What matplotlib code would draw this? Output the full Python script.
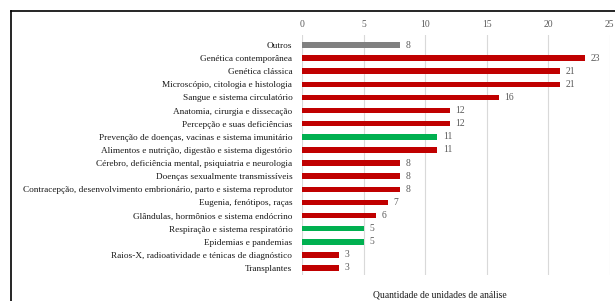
import matplotlib.pyplot as plt
from matplotlib.lines import Line2D

# dados
temas = [
    'Outros',
    'Genética contemporânea',
    'Genética clássica',
    'Microscópio, citologia e histologia',
    'Sangue e sistema circulatório',
    'Anatomia, cirurgia e dissecação',
    'Percepção e suas deficiências',
    'Prevenção de doenças, vacinas e sistema imunitário',
    'Alimentos e nutrição, digestão e sistema digestório',
    'Cérebro, deficiência mental, psiquiatria e neurologia',
    'Doenças sexualmente transmissíveis',
    'Contracepção, desenvolvimento embrionário, parto e sistema reprodutor',
    'Eugenia, fenótipos, raças',
    'Glândulas, hormônios e sistema endócrino',
    'Respiração e sistema respiratório',
    'Epidemias e pandemias',
    'Raios-X, radioatividade e ténicas de diagnóstico',
    'Transplantes',
]
quantidades = [8, 23, 21, 21, 16, 12, 12, 11, 11, 8, 8, 8, 7, 6, 5, 5, 3, 3]
grupos = ['o', 'r', 'r', 'r', 'r', 'r', 'r', 'g', 'r', 'r', 'r', 'r', 'r', 'r', 'g', 'g', 'r', 'r']
eixo_x = [0, 5, 10, 15, 20, 25]

cores = {'o': '#808080', 'r': '#C00000', 'g': '#00B050'}

plt.rcParams['font.family'] = ['Liberation Serif', 'DejaVu Serif']

fig = plt.figure(figsize=(6.15, 3.01), dpi=100)
fig.patch.set_facecolor('white')

n = len(temas)
passo = (268 - 45) / (n - 1)
topo = 35
base = 275
ax = fig.add_axes([302 / 615, 1 - base / 301, 307.5 / 615, (base - topo) / 301])

pos = list(range(n))
ax.barh(pos, quantidades, height=0.42, color=[cores[g] for g in grupos], zorder=3)
for p, q in zip(pos, quantidades):
    ax.text(q + 0.45, p, str(q), va='center', ha='left', fontsize=6.9, color='#595959')

ax.set_xlim(0, 25)
ax.set_ylim((base - 45) / passo, -(45 - topo) / passo)
ax.set_xticks(eixo_x)
ax.xaxis.tick_top()
ax.tick_params(axis='x', length=0, pad=4, labelsize=6.9, labelcolor='#595959')
ax.set_yticks(pos)
ax.set_yticklabels(temas)
ax.tick_params(axis='y', length=0, pad=7, labelsize=6.7, labelcolor='#1a1a1a')
ax.grid(axis='x', color='#D9D9D9', linewidth=0.8, zorder=0)
for s in ax.spines.values():
    s.set_visible(False)

fig.text(440 / 615, 1 - 295 / 301, 'Quantidade de unidades de análise',
         ha='center', va='center', fontsize=6.9, color='#1a1a1a')

# moldura
fig.add_artist(Line2D([11 / 615, 11 / 615], [0, 1 - 11 / 301], color='black', lw=1.2))
fig.add_artist(Line2D([11 / 615, 1], [1 - 11 / 301, 1 - 11 / 301], color='black', lw=1.2))

fig.savefig('out.png', dpi=100)
